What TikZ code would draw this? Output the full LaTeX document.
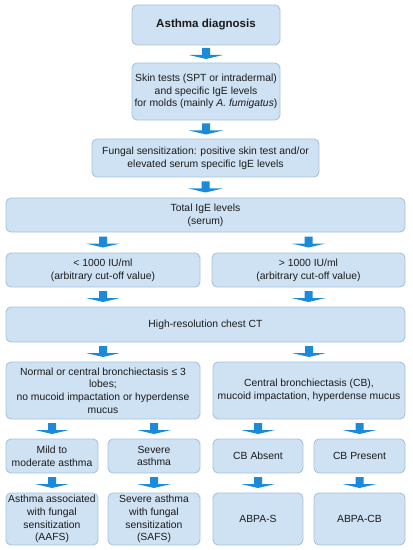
\documentclass[tikz,border=0pt]{standalone}
\usepackage{fontspec}
\setmainfont{Liberation Sans}
\usetikzlibrary{calc}
\definecolor{boxfill}{HTML}{CFE2F3}
\definecolor{boxline}{HTML}{A7C3DF}
\definecolor{arrowblue}{HTML}{1C8ADB}
\definecolor{txt}{HTML}{1A1A1A}
\tikzset{
  box/.style={draw=boxline, fill=boxfill, line width=0.9bp, rounded corners=5bp,
    align=center, inner sep=0pt, text=txt, font=\fontsize{10.4}{12.8}\selectfont},
  darrow/.pic={\fill[arrowblue] (-4,-6) -- (4,-6) -- (4,1) -- (17,1) -- (0,5) -- (-17,1) -- (-4,1) -- cycle;}
}
\newcommand{\bx}[6]{\node[box, minimum width={(#4-#2)*1bp}, minimum height={(#5-#3)*1bp}] (#1) at ({(#2+#4)/2},{(#3+#5)/2}) {#6};}
\newcommand{\flow}[3]{\path ($(#1.south)!.5!(#2.north)$) coordinate (tmp); \pic at (#3 |- tmp) {darrow};}
\begin{document}
\begin{tikzpicture}[x=1bp,y=-1bp]
\useasboundingbox (0,0) rectangle (412,550);
\fill[white] (0,0) rectangle (412,550);
\bx{b1}{132}{5}{280}{45}{\fontsize{11.6}{13}\selectfont\bfseries Asthma diagnosis}
\bx{b2}{132}{63}{280}{120}{Skin tests (SPT or intradermal)\\and specific IgE levels\\for molds (mainly \textit{A. fumigatus})}
\bx{b3}{92}{139}{319}{177}{Fungal sensitization: positive skin test and/or\\elevated serum specific IgE levels}
\bx{b4}{6}{198}{405}{232}{Total IgE levels\\(serum)}
\bx{b5a}{6}{253}{200}{287}{< 1000 IU/ml\\(arbitrary cut-off value)}
\bx{b5b}{212}{253}{405}{287}{> 1000 IU/ml\\(arbitrary cut-off value)}
\bx{b6}{6}{307}{405}{342}{High-resolution chest CT}
\bx{b7a}{6}{362}{200}{419}{Normal or central bronchiectasis ≤ 3\\lobes;\\no mucoid impactation or hyperdense\\mucus}
\bx{b7b}{213}{362}{405}{419}{Central bronchiectasis (CB),\\mucoid impactation, hyperdense mucus}
\bx{b8a}{6}{439}{98}{473}{Mild to\\moderate asthma}
\bx{b8b}{108}{439}{200}{473}{Severe\\asthma}
\bx{b8c}{213}{439}{303}{473}{CB Absent}
\bx{b8d}{314}{439}{405}{473}{CB Present}
\bx{b9a}{6}{493}{98}{545}{Asthma associated\\with fungal\\sensitization\\(AAFS)}
\bx{b9b}{108}{493}{200}{545}{Severe asthma\\with fungal\\sensitization\\(SAFS)}
\bx{b9c}{213}{493}{303}{545}{ABPA-S}
\bx{b9d}{314}{493}{405}{545}{ABPA-CB}
\flow{b1}{b2}{b1}
\flow{b2}{b3}{b2}
\flow{b3}{b4}{b3}
\flow{b4}{b5a}{b5a}
\flow{b4}{b5b}{b5b}
\flow{b5a}{b6}{b5a}
\flow{b5b}{b6}{b5b}
\flow{b6}{b7a}{b7a}
\flow{b6}{b7b}{b7b}
\flow{b7a}{b8a}{b8a}
\flow{b7a}{b8b}{b8b}
\flow{b7b}{b8c}{b8c}
\flow{b7b}{b8d}{b8d}
\flow{b8a}{b9a}{b8a}
\flow{b8b}{b9b}{b8b}
\flow{b8c}{b9c}{b8c}
\flow{b8d}{b9d}{b8d}
\end{tikzpicture}
\end{document}
